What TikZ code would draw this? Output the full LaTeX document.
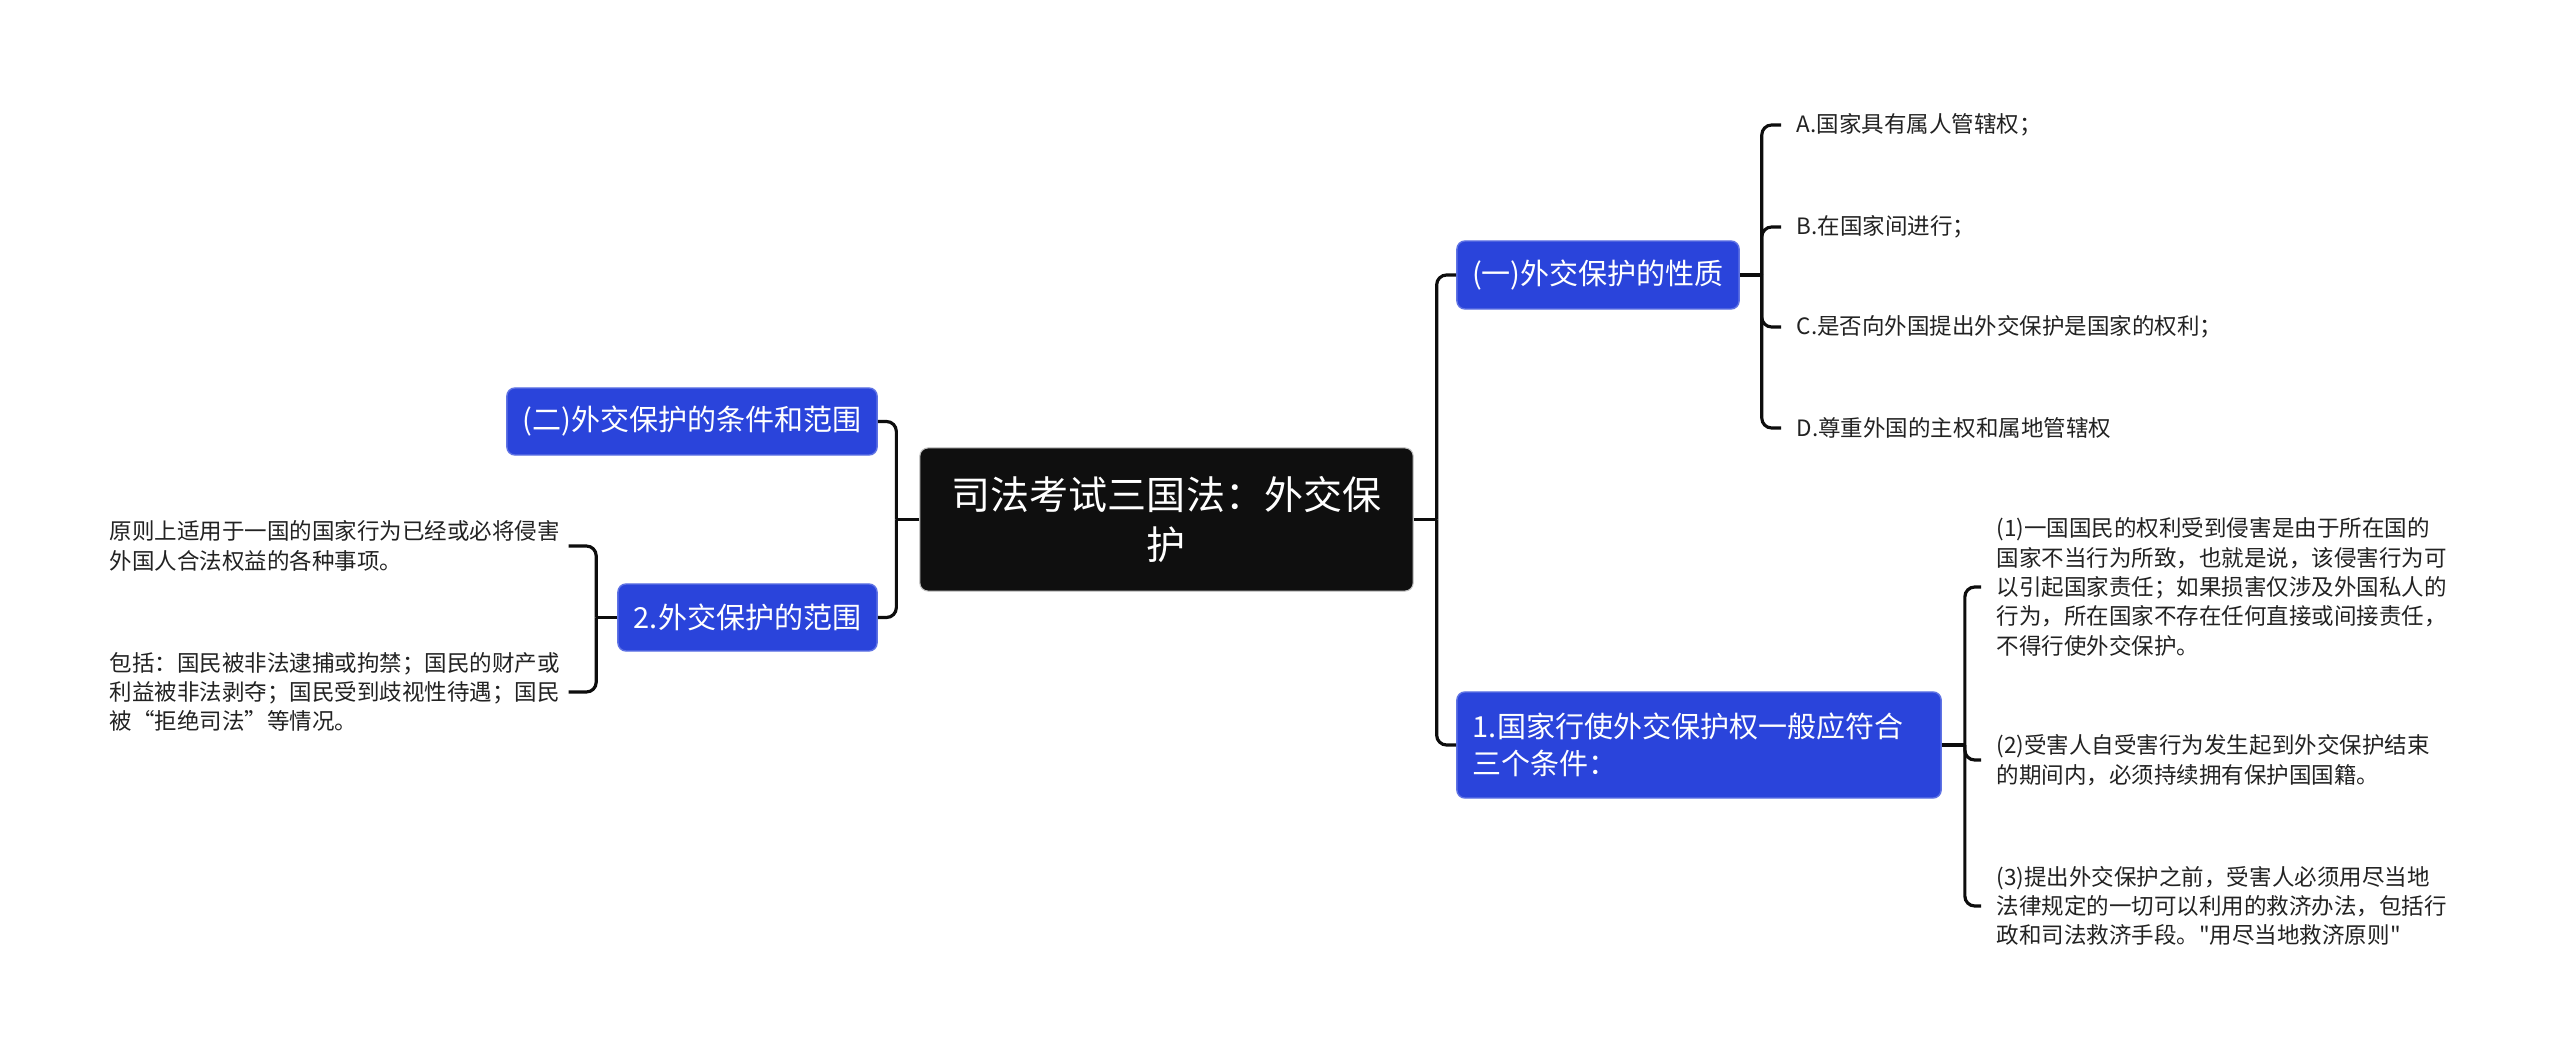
\documentclass[tikz,border=0pt]{standalone}
\usepackage{fontspec}
\setmainfont{Noto Sans CJK SC}
\definecolor{nodeblue}{HTML}{2A44DB}
\definecolor{rootblack}{HTML}{0F0F0F}
\definecolor{leaftext}{HTML}{222222}
\begin{document}
\begin{tikzpicture}[x=0.01cm,y=-0.01cm,
  conn/.style={line width=0.9pt, draw=black!95, rounded corners=2.8pt},
  rootbox/.style={fill=rootblack, draw=gray!50, line width=0.3pt, rounded corners=2.3pt, text=white, font=\fontsize{11.1pt}{14.2pt}\selectfont, align=center, inner sep=0pt},
  bluebox/.style={fill=nodeblue, draw=nodeblue!75!white, line width=0.4pt, rounded corners=2.3pt, text=white, font=\fontsize{8.25pt}{10.5pt}\selectfont, inner sep=0pt, minimum height=0.67cm},
  leaf/.style={text=leaftext, font=\fontsize{6.4pt}{8.34pt}\selectfont, align=left, inner sep=0pt, anchor=west},
]
\useasboundingbox[fill=white] (0,0) rectangle (2560,1058);

% root
\node[rootbox, minimum width=4.93cm, minimum height=1.43cm] (root) at (1166.5,519.5) {司法考试三国法：外交保\\护};

% blue level-1 nodes
\node[bluebox, minimum width=3.70cm] (b1) at (692,421.5) {(二)外交保护的条件和范围};
\node[bluebox, minimum width=2.59cm] (b2) at (747.5,617.5) {2.外交保护的范围};
\node[bluebox, minimum width=2.82cm, minimum height=0.68cm] (b3) at (1598,275) {(一)外交保护的性质};
\node[bluebox, text width=4.52cm, inner xsep=0.16cm, minimum height=1.06cm, align=left] (b4) at (1699,745) {1.国家行使外交保护权一般应符合\\三个条件：};

% right leaves of b3
\node[leaf] (la) at (1796,125) {A.国家具有属人管辖权；};
\node[leaf] (lb) at (1796,227) {B.在国家间进行；};
\node[leaf] (lc) at (1796,327) {C.是否向外国提出外交保护是国家的权利；};
\node[leaf] (ld) at (1796,428) {D.尊重外国的主权和属地管辖权};

% right leaves of b4
\node[leaf] (l1) at (1996,587) {(1)一国国民的权利受到侵害是由于所在国的\\国家不当行为所致，也就是说，该侵害行为可\\以引起国家责任；如果损害仅涉及外国私人的\\行为，所在国家不存在任何直接或间接责任，\\不得行使外交保护。};
\node[leaf] (l2) at (1996,760) {(2)受害人自受害行为发生起到外交保护结束\\的期间内，必须持续拥有保护国国籍。};
\node[leaf] (l3) at (1996,906) {(3)提出外交保护之前，受害人必须用尽当地\\法律规定的一切可以利用的救济办法，包括行\\政和司法救济手段。\textquotedbl 用尽当地救济原则\textquotedbl};

% left leaves of b2
\node[leaf] (ll1) at (109,546) {原则上适用于一国的国家行为已经或必将侵害\\外国人合法权益的各种事项。};
\node[leaf] (ll2) at (109,692) {包括：国民被非法逮捕或拘禁；国民的财产或\\利益被非法剥夺；国民受到歧视性待遇；国民\\被“拒绝司法”等情况。};

% connectors root -> right
\draw[conn] (root.east) -- ++(23,0);
\draw[conn] (root.east) ++(23,0) |- (b3.west);
\draw[conn] (root.east) ++(23,0) |- (b4.west);
% root -> left
\draw[conn] (root.west) -- ++(-23,0);
\draw[conn] (root.west) ++(-23,0) |- (b1.east);
\draw[conn] (root.west) ++(-23,0) |- (b2.east);
% b3 -> leaves
\draw[conn] (b3.east) -- ++(22,0);
\foreach \n in {la,lb,lc,ld}{
  \draw[conn] (b3.east) ++(22,0) |- ([xshift=-0.15cm]\n.west);
}
% b4 -> leaves
\draw[conn] (b4.east) -- ++(23,0);
\foreach \n in {l1,l2,l3}{
  \draw[conn] (b4.east) ++(23,0) |- ([xshift=-0.15cm]\n.west);
}
% b2 -> left leaves
\draw[conn] (b2.west) -- ++(-21,0);
\foreach \n in {ll1,ll2}{
  \draw[conn] (b2.west) ++(-21,0) |- ([xshift=0.08cm]\n.east);
}
\end{tikzpicture}
\end{document}
